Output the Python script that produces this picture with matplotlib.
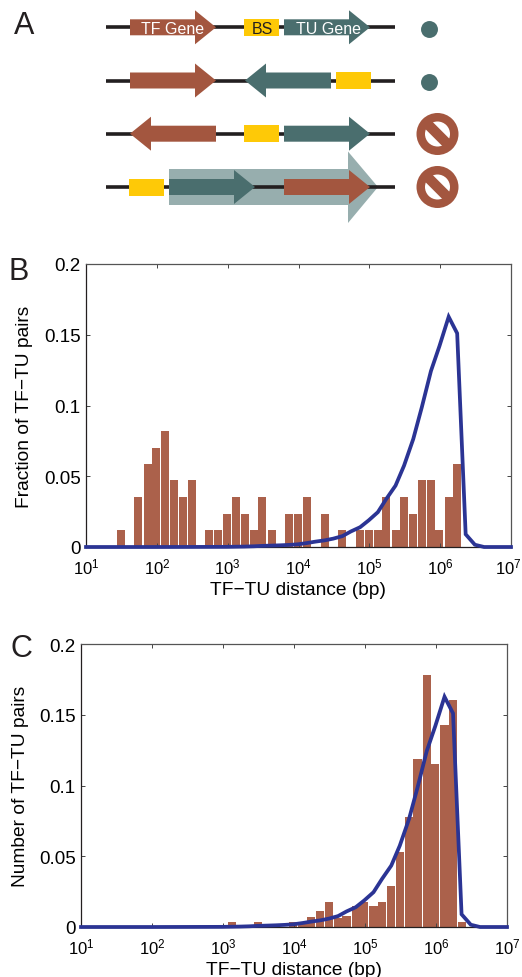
import matplotlib
matplotlib.use("Agg")
import matplotlib.pyplot as plt
from matplotlib.patches import Circle, Polygon, Rectangle
from matplotlib.transforms import ScaledTranslation

W, H = 522, 978
plt.rcParams["font.family"] = ["Liberation Sans", "DejaVu Sans"]
plt.rcParams["mathtext.fontset"] = "custom"
plt.rcParams["mathtext.rm"] = "Liberation Sans"
plt.rcParams["mathtext.default"] = "regular"

# Bin centres as log10(bp)
B_EXP = [1.49, 1.74, 1.87, 1.99, 2.12, 2.24, 2.37, 2.49, 2.74, 2.87, 2.99, 3.12,
         3.24, 3.37, 3.49, 3.62, 3.87, 3.99, 4.12, 4.37, 4.62, 4.87, 4.99, 5.12,
         5.24, 5.37, 5.49, 5.62, 5.74, 5.87, 5.99, 6.12, 6.24]
B_VAL = [0.012, 0.035, 0.059, 0.07, 0.082, 0.047, 0.035, 0.047, 0.012, 0.012, 0.0235, 0.035,
         0.0235, 0.012, 0.035, 0.012, 0.0235, 0.0235, 0.035, 0.0235, 0.012, 0.012, 0.012, 0.012,
         0.035, 0.012, 0.035, 0.0235, 0.047, 0.047, 0.012, 0.035, 0.059]

C_EXP = [3.13, 3.49, 3.99, 4.12, 4.24, 4.37, 4.49, 4.62, 4.74, 4.87, 4.99, 5.12,
         5.24, 5.37, 5.49, 5.62, 5.74, 5.87, 5.99, 6.12, 6.24, 6.36]
C_VAL = [0.0035, 0.0035, 0.0035, 0.0035, 0.0073, 0.0114, 0.018, 0.0066, 0.0078, 0.0145, 0.018, 0.0145,
         0.018, 0.0287, 0.053, 0.0777, 0.1187, 0.178, 0.115, 0.143, 0.1604, 0.0038]

LINE_EXP = [1.0, 2.0, 2.99, 3.24, 3.37, 3.49, 3.62, 3.74, 3.87, 3.99, 4.12, 4.24, 4.37, 4.49,
            4.62, 4.74, 4.87, 4.99, 5.12, 5.24, 5.37, 5.49, 5.62, 5.74, 5.87, 5.99, 6.12,
            6.24, 6.36, 6.49, 6.62, 6.74, 7.0]
LINE_VAL = [0.0, 0.0, 0.0001, 0.0003, 0.0005, 0.0008, 0.001, 0.0012, 0.0015, 0.0019, 0.0028, 0.0038,
            0.0047, 0.0059, 0.0077, 0.011, 0.014, 0.0188, 0.0246, 0.034, 0.0434, 0.0575, 0.0763,
            0.0986, 0.1244, 0.142, 0.1627, 0.151, 0.009, 0.0016, 0.0, 0.0, 0.0]

Y_TICKS = [0, 0.05, 0.1, 0.15, 0.2]
Y_LABELS = ["0", "0.05", "0.1", "0.15", "0.2"]
X_TICKS = [1e1, 1e2, 1e3, 1e4, 1e5, 1e6, 1e7]

RED = "#a3563f"
TEAL = "#4a6e6e"
YELLOW = "#fec907"
BAR = "#ab614b"
BLUE = "#2b3494"
DARK = "#231f20"


def px_axes(fig, left, right, top, bottom):
    return fig.add_axes([left / W, 1 - bottom / H, (right - left) / W, (bottom - top) / H])


def hist_panel(ax, exps, vals, ylabel, label_x):
    lefts = [10 ** (e - 0.057) for e in exps]
    widths = [10 ** (e + 0.057) - 10 ** (e - 0.057) for e in exps]
    ax.bar(lefts, vals, width=widths, align="edge", color=BAR, linewidth=0)
    ax.plot([10 ** e for e in LINE_EXP], LINE_VAL, color=BLUE, lw=2.7,
            solid_joinstyle="miter", clip_on=False, zorder=5)
    ax.set_xscale("log")
    ax.set_xlim(1e1, 1e7)
    ax.set_ylim(0, 0.2)
    ax.set_xticks(X_TICKS)
    ax.minorticks_off()
    ax.set_yticks(Y_TICKS)
    ax.set_yticklabels(Y_LABELS)
    ax.tick_params(axis="both", which="major", direction="in", length=3, width=0.7,
                   top=True, right=True, color="#444444")
    ax.tick_params(axis="y", labelsize=13.5, pad=3.8)
    ax.tick_params(axis="x", labelsize=12, pad=6.5)
    for name in ["left", "bottom"]:
        ax.spines[name].set_linewidth(0.9)
        ax.spines[name].set_color(DARK)
    for name in ["top", "right"]:
        ax.spines[name].set_linewidth(0.9)
        ax.spines[name].set_color("#555555")
    ax.set_xlabel("TF\u2212TU distance (bp)", fontsize=13.8, labelpad=3.5)
    ax.set_ylabel(ylabel, fontsize=13.8)
    ax.yaxis.set_label_coords(label_x, 0.5)


def arrow(ov, tail, tip, y, base, half=8, head=17, color=RED, z=3):
    pts = [(tail, y - half), (base, y - half), (base, y - head), (tip, y),
           (base, y + head), (base, y + half), (tail, y + half)]
    ov.add_patch(Polygon(pts, closed=True, facecolor=color, edgecolor="none", zorder=z))


def bs(ov, x, y):
    ov.add_patch(Rectangle((x, y - 8.5), 35, 17, facecolor=YELLOW, edgecolor="none", zorder=3))


def no_sign(ov, x, y):
    ov.add_patch(Circle((x, y), 21, facecolor=RED, edgecolor="none", zorder=3))
    ov.add_patch(Circle((x, y), 12.5, facecolor="white", edgecolor="none", zorder=4))
    d = 10
    t = 3.6
    pts = [(x - d - t, y - d + t), (x - d + t, y - d - t), (x + d + t, y + d - t), (x + d - t, y + d + t)]
    ov.add_patch(Polygon(pts, closed=True, facecolor=RED, edgecolor="none", zorder=5))


fig = plt.figure(figsize=(W / 100, H / 100), dpi=100)

# Panel A, schematic in pixel coordinates
ov = fig.add_axes([0, 0, 1, 1])
ov.set_xlim(0, W)
ov.set_ylim(H, 0)
ov.axis("off")
ov.patch.set_alpha(0)

big = [(169, 170), (348, 170), (348, 152.5), (378, 188), (348, 224), (348, 206), (169, 206)]
ov.add_patch(Polygon(big, closed=True, facecolor="#97aeae", edgecolor="none", zorder=1))

for y in [28.3, 81.5, 134.7, 188]:
    ov.plot([105.5, 395], [y, y], color=DARK, lw=2.6, solid_capstyle="butt", zorder=2)

arrow(ov, 130, 216, 28.3, 195)
bs(ov, 244, 28.3)
arrow(ov, 284, 370, 28.3, 349, color=TEAL)
ov.plot([429], [29.5], "o", ms=12.2, color=TEAL, mew=0, zorder=3)
ov.text(173, 29.5, "TF Gene", color="white", fontsize=11.5, ha="center", va="center", zorder=6)
ov.text(262, 29.5, "BS", color=DARK, fontsize=11.5, ha="center", va="center", zorder=6)
ov.text(328, 29.5, "TU Gene", color="white", fontsize=11.5, ha="center", va="center", zorder=6)

arrow(ov, 130, 216, 81.5, 195)
arrow(ov, 331, 245, 81.5, 266, color=TEAL)
bs(ov, 336, 81.5)
ov.plot([429], [82.7], "o", ms=12.2, color=TEAL, mew=0, zorder=3)

arrow(ov, 216, 130, 134.7, 151)
bs(ov, 244, 134.7)
arrow(ov, 284, 370, 134.7, 349, color=TEAL)
no_sign(ov, 437.5, 135)

bs(ov, 129, 188)
arrow(ov, 169, 255, 188, 234, color=TEAL)
arrow(ov, 284, 370, 188, 349)
no_sign(ov, 437.5, 188)

ov.text(24, 26, "A", fontsize=22, color=DARK, ha="center", va="center")
ov.text(19, 272, "B", fontsize=22, color=DARK, ha="center", va="center")
ov.text(21, 649, "C", fontsize=22, color=DARK, ha="center", va="center")

ax_b = px_axes(fig, 86, 511, 265, 548)
hist_panel(ax_b, B_EXP, B_VAL, "Fraction of TF\u2212TU pairs", -0.125)
ax_c = px_axes(fig, 81, 507, 645, 928)
hist_panel(ax_c, C_EXP, C_VAL, "Number of TF\u2212TU pairs", -0.122)

# keep the last tick label of B inside the figure
last = ax_b.get_xticklabels()[-1]
last.set_transform(last.get_transform() + ScaledTranslation(-3 / 100, 0, fig.dpi_scale_trans))

fig.savefig("out.png", dpi=100)
